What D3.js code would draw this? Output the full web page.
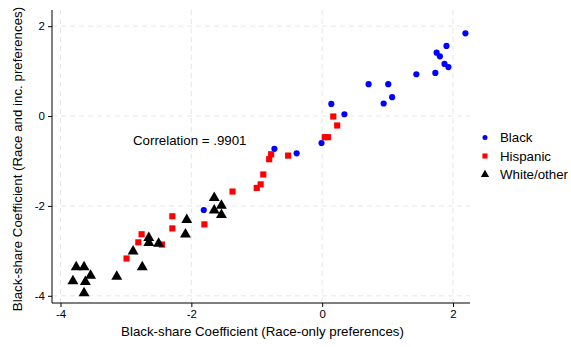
<!DOCTYPE html>
<html>
<head>
<meta charset="utf-8">
<script src="https://cdn.jsdelivr.net/npm/d3@7"></script>
<style>
  body { margin: 0; background: #fff; }
  svg { display: block; }
</style>
</head>
<body>
<div id="chart"></div>
<script>
// values (x = race-only, y = race and income)
const blackX = [2.19, 1.90, 1.75, 1.80, 1.87, 1.93, 1.73, 1.44, 0.71, 1.01, 1.07, 0.94, 0.14, 0.34, -0.01, -0.39, -0.73, -1.81];
const blackY = [1.84, 1.56, 1.41, 1.33, 1.16, 1.09, 0.96, 0.93, 0.71, 0.71, 0.42, 0.28, 0.27, 0.04, -0.60, -0.83, -0.73, -2.09];

const hispX = [0.17, 0.23, 0.04, 0.09, -0.52, -0.78, -0.81, -0.90, -0.94, -1.00, -1.37, -1.80, -2.29, -2.29, -2.76, -2.81, -2.45, -2.99];
const hispY = [-0.01, -0.21, -0.47, -0.47, -0.88, -0.85, -0.96, -1.30, -1.52, -1.60, -1.68, -2.41, -2.23, -2.50, -2.63, -2.81, -2.86, -3.17];

const whiteX = [-1.65, -1.54, -1.65, -1.54, -2.07, -2.09, -2.65, -2.65, -2.50, -2.89, -2.75, -3.14, -3.76, -3.64, -3.54, -3.81, -3.62, -3.64];
const whiteY = [-1.82, -1.99, -2.10, -2.20, -2.31, -2.63, -2.71, -2.82, -2.84, -3.01, -3.36, -3.57, -3.36, -3.36, -3.55, -3.67, -3.69, -3.94];

const xTicks = [-4, -2, 0, 2];
const yTicks = [-4, -2, 0, 2];
const seriesNames = ['Black', 'Hispanic', 'White/other'];
const correlationLabel = 'Correlation = .9901';

const width = 571, height = 347;
const margin = { left: 52, top: 10, right: 101, bottom: 44 };
const font = '"Liberation Sans", Arial, sans-serif';
const labelSize = 13.3;

const svg = d3.select('#chart').append('svg')
  .attr('width', width)
  .attr('height', height)
  .attr('font-family', font);

svg.append('rect').attr('width', width).attr('height', height).attr('fill', '#fff');

const x = d3.scaleLinear().domain([-4.13, 2.26]).range([margin.left, width - margin.right]);
const y = d3.scaleLinear().domain([-4.16, 2.36]).range([height - margin.bottom, margin.top]);

// grid
const grid = svg.append('g').attr('stroke', '#e6e6e6').attr('stroke-width', 1).attr('stroke-dasharray', '5,4');
grid.selectAll('.gx').data(xTicks).join('line')
  .attr('x1', d => x(d)).attr('x2', d => x(d))
  .attr('y1', margin.top).attr('y2', height - margin.bottom);
grid.selectAll('.gy').data(yTicks).join('line')
  .attr('x1', margin.left).attr('x2', width - margin.right)
  .attr('y1', d => y(d)).attr('y2', d => y(d));

// axes
const fmt = d => String(d);
const xAxis = svg.append('g')
  .attr('transform', `translate(0,${height - margin.bottom})`)
  .call(d3.axisBottom(x).tickValues(xTicks).tickFormat(fmt).tickSize(4).tickPadding(3));
const yAxis = svg.append('g')
  .attr('transform', `translate(${margin.left},0)`)
  .call(d3.axisLeft(y).tickValues(yTicks).tickFormat(fmt).tickSize(4).tickPadding(3));
[xAxis, yAxis].forEach(a => {
  a.select('.domain').remove();
  a.selectAll('text').attr('font-size', 11.5).attr('font-family', font).attr('fill', '#000');
  a.selectAll('line').attr('stroke', '#000');
});
svg.append('line').attr('x1', margin.left).attr('x2', width - margin.right)
  .attr('y1', height - margin.bottom).attr('y2', height - margin.bottom).attr('stroke', '#000');
svg.append('line').attr('x1', margin.left).attr('x2', margin.left)
  .attr('y1', margin.top).attr('y2', height - margin.bottom).attr('stroke', '#000');

// axis titles
svg.append('text')
  .attr('x', 262.5).attr('y', 336)
  .attr('text-anchor', 'middle').attr('font-size', labelSize)
  .text('Black-share Coefficient (Race-only preferences)');
svg.append('text')
  .attr('transform', 'translate(22,159) rotate(-90)')
  .attr('text-anchor', 'middle').attr('font-size', labelSize)
  .text('Black-share Coefficient (Race and inc. preferences)');

// markers
const circle = d3.symbol().type(d3.symbolCircle).size(30);
const square = d3.symbol().type(d3.symbolSquare).size(38);
const tri = d3.symbol().type(d3.symbolTriangle).size(52);

const series = [
  { xs: blackX, ys: blackY, sym: circle, color: '#0000ff' },
  { xs: hispX, ys: hispY, sym: square, color: '#ff0000' },
  { xs: whiteX, ys: whiteY, sym: tri, color: '#000000' },
];

series.forEach(s => {
  svg.append('g').selectAll('path')
    .data(s.xs.map((v, i) => [v, s.ys[i]]))
    .join('path')
    .attr('d', s.sym)
    .attr('transform', d => `translate(${x(d[0])},${y(d[1])})`)
    .attr('fill', s.color);
});

// correlation note
svg.append('text')
  .attr('x', 133).attr('y', 144.5)
  .attr('font-size', labelSize)
  .text(correlationLabel);

// legend
const legSym = [
  d3.symbol().type(d3.symbolCircle).size(20),
  d3.symbol().type(d3.symbolSquare).size(26),
  d3.symbol().type(d3.symbolTriangle).size(30),
];
const legend = svg.append('g');
seriesNames.forEach((name, i) => {
  const cy = 137.5 + i * 18.5;
  legend.append('path').attr('d', legSym[i]).attr('transform', `translate(485,${cy})`).attr('fill', series[i].color);
  legend.append('text').attr('x', 500).attr('y', cy + 4.7).attr('font-size', labelSize).text(name);
});
</script>
</body>
</html>
